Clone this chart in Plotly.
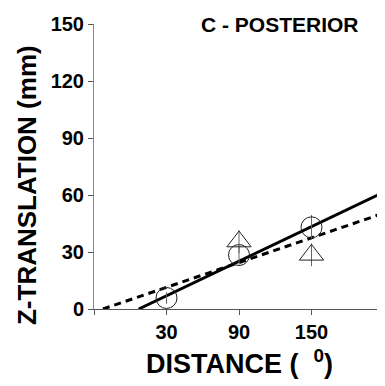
import plotly.graph_objects as go

# data
dist = [30, 90, 150]
circle_y = [5.8, 28.4, 43.0]
circle_err = [3.0, 5.0, 6.5]
tri_x = [90, 150]
tri_y = [35.5, 28.5]
tri_err = [6.0, 6.0]
fit_solid_x = [7, 210]
fit_solid_y = [0, 61.6]
fit_dash_x = [-22.6, 210]
fit_dash_y = [0, 50.5]
xticks = [30, 90, 150]
xticklabels = ["30", "90", "150"]
yticks = [0, 30, 60, 90, 120, 150]

FONT = "Arial, Liberation Sans, sans-serif"

fig = go.Figure()
fig.add_trace(go.Scatter(x=fit_solid_x, y=fit_solid_y, mode="lines",
                         line=dict(color="black", width=3), showlegend=False))
fig.add_trace(go.Scatter(x=fit_dash_x, y=fit_dash_y, mode="lines",
                         line=dict(color="black", width=3, dash="7px,5px"), showlegend=False))
fig.add_trace(go.Scatter(x=dist, y=circle_y, mode="markers",
                         marker=dict(symbol="circle-open", size=21, color="#222", line=dict(width=1)),
                         error_y=dict(type="data", array=circle_err, color="#666", thickness=1, width=0),
                         showlegend=False))
fig.add_trace(go.Scatter(x=tri_x, y=tri_y, mode="markers",
                         marker=dict(symbol="triangle-up-open", size=21, color="#222", line=dict(width=1)),
                         error_y=dict(type="data", array=tri_err, color="#666", thickness=1, width=0),
                         showlegend=False))

fig.update_layout(
    width=377, height=378,
    margin=dict(l=86, r=1, t=16, b=77),
    plot_bgcolor="white", paper_bgcolor="white",
    font=dict(family=FONT, color="black"),
    xaxis=dict(range=[-30, 210], tickmode="array", tickvals=xticks, ticktext=xticklabels,
               showgrid=False, zeroline=False, showline=True, linecolor="#555", linewidth=1,
               ticks="outside", ticklen=5, tickcolor="#555",
               minor=dict(ticks="outside", tick0=-30, dtick=60, ticklen=5, tickcolor="#555"),
               tickfont=dict(size=20, family=FONT, weight="bold")),
    yaxis=dict(range=[0, 150], tickmode="array", tickvals=yticks,
               showgrid=False, zeroline=False, showline=True, linecolor="#888", linewidth=1,
               ticks="outside", ticklen=5, tickcolor="#555",
               tickfont=dict(size=20, family=FONT, weight="bold")),
    annotations=[
        dict(text="C - POSTERIOR", xref="paper", yref="paper", x=0.64, y=1.0,
             xanchor="center", yanchor="middle", showarrow=False,
             font=dict(size=21, family=FONT, weight="bold")),
        dict(text="DISTANCE (  <sup>0</sup>)", xref="paper", yref="paper", x=0.50, y=-0.186,
             xanchor="center", yanchor="middle", showarrow=False,
             font=dict(size=27, family=FONT, weight="bold")),
        dict(text="Z-TRANSLATION (mm)", xref="paper", yref="paper", x=-0.231, y=0.435,
             xanchor="center", yanchor="middle", showarrow=False, textangle=-90,
             font=dict(size=26, family=FONT, weight="bold")),
    ],
)

fig.write_html("out.html")
